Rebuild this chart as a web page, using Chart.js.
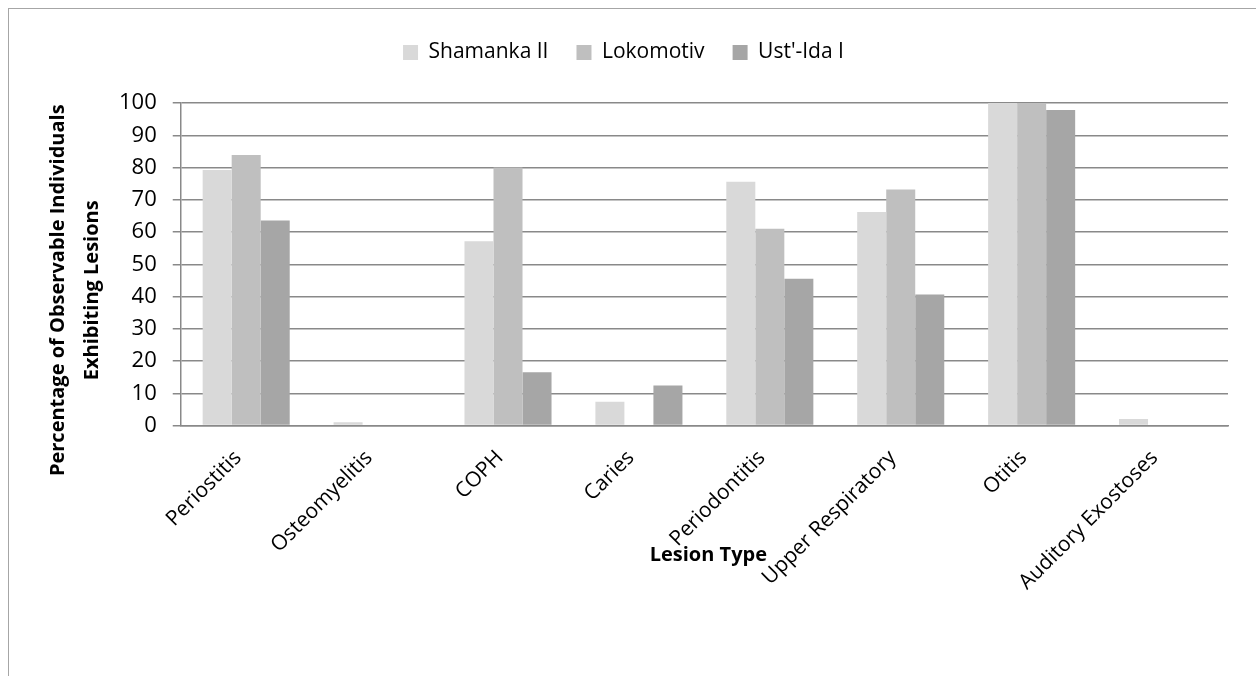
<!DOCTYPE html>
<html>
<head>
<meta charset="utf-8">
<script src="https://cdn.jsdelivr.net/npm/chart.js@4"></script>
<style>
  body { margin: 0; background: #fff; overflow: hidden; }
  #wrap { position: absolute; left: 0; top: 0; width: 1256px; height: 676px; overflow: hidden; }
  #frame { position: absolute; left: 8px; top: 8px; width: 1300px; height: 720px; border: 1px solid #a6a6a6; }
  #chart { position: absolute; left: 0; top: 0; }
</style>
</head>
<body>
<div id="wrap">
  <div id="frame"></div>
  <canvas id="chart" width="1256" height="676"></canvas>
</div>
<script>
const lesionTypes = ['Periostitis', 'Osteomyelitis', 'COPH', 'Caries', 'Periodontitis', 'Upper Respiratory', 'Otitis', 'Auditory Exostoses'];
const shamanka = [79.2, 1, 57.1, 7.4, 75.6, 66.2, 100, 2];
const lokomotiv = [83.9, 0, 80, 0, 61, 73.2, 100, 0];
const ustIda = [63.6, 0, 16.5, 12.4, 45.5, 40.6, 97.8, 0];
const yTicks = [0, 10, 20, 30, 40, 50, 60, 70, 80, 90, 100];
const xTitle = 'Lesion Type';
const yTitle = ['Percentage of Observable Individuals', 'Exhibiting Lesions'];

const font = "'Open Sans', 'Noto Sans', sans-serif";
const gridColor = '#898989';

// extra room under the legend, and legend centred on the whole box
const legendGap = {
  id: 'legendGap',
  beforeInit(chart) {
    const fit = chart.legend.fit;
    chart.legend.fit = function () {
      fit.bind(chart.legend)();
      this.height += 30;
    };
  },
  afterLayout(chart) {
    chart.legend.left -= 42;
    chart.legend.right -= 42;
  }
};

// axis titles are placed like in the original (x title level with the
// rotated labels, y title a bit below the middle of the plot)
const axisTitles = {
  id: 'axisTitles',
  afterDraw(chart) {
    const { ctx, chartArea } = chart;
    ctx.save();
    ctx.font = `bold 20px ${font}`;
    ctx.fillStyle = '#000';
    ctx.textAlign = 'center';
    ctx.textBaseline = 'middle';
    ctx.fillText(xTitle, (chartArea.left + chartArea.right) / 2 + 4, chartArea.bottom + 130);

    const midY = (chartArea.top + chartArea.bottom) / 2 + 26;
    yTitle.forEach((line, i) => {
      ctx.save();
      ctx.translate(58 + i * 34, midY);
      ctx.rotate(-Math.PI / 2);
      ctx.fillText(line, 0, 0);
      ctx.restore();
    });
    ctx.restore();
  }
};

new Chart(document.getElementById('chart'), {
  type: 'bar',
  data: {
    labels: lesionTypes,
    datasets: [
      { label: 'Shamanka II', data: shamanka, backgroundColor: '#d9d9d9' },
      { label: 'Lokomotiv', data: lokomotiv, backgroundColor: '#bfbfbf' },
      { label: "Ust'-Ida I", data: ustIda, backgroundColor: '#a6a6a6' }
    ]
  },
  plugins: [legendGap, axisTitles],
  options: {
    responsive: false,
    animation: false,
    layout: { padding: { left: 103, right: 28, top: 14, bottom: 69 } },
    datasets: { bar: { categoryPercentage: 0.665, barPercentage: 1 } },
    plugins: {
      legend: {
        position: 'top',
        labels: {
          color: '#000',
          font: { family: font, size: 21 },
          boxWidth: 15, boxHeight: 15,
          padding: 28
        }
      },
      tooltip: { enabled: false }
    },
    scales: {
      x: {
        grid: { display: false },
        border: { color: gridColor, width: 1.5 },
        ticks: {
          color: '#000',
          font: { family: font, size: 21 },
          minRotation: 45, maxRotation: 45,
          autoSkip: false,
          padding: 12,
          labelOffset: -8
        }
      },
      y: {
        min: 0, max: 100,
        afterBuildTicks: (axis) => { axis.ticks = yTicks.map(v => ({ value: v })); },
        grid: { color: gridColor, lineWidth: 1.5, tickLength: 8, drawTicks: true },
        border: { color: gridColor, width: 1.5 },
        ticks: {
          color: '#000',
          font: { family: font, size: 22 },
          autoSkip: false,
          padding: 16
        }
      }
    }
  }
});
</script>
</body>
</html>
